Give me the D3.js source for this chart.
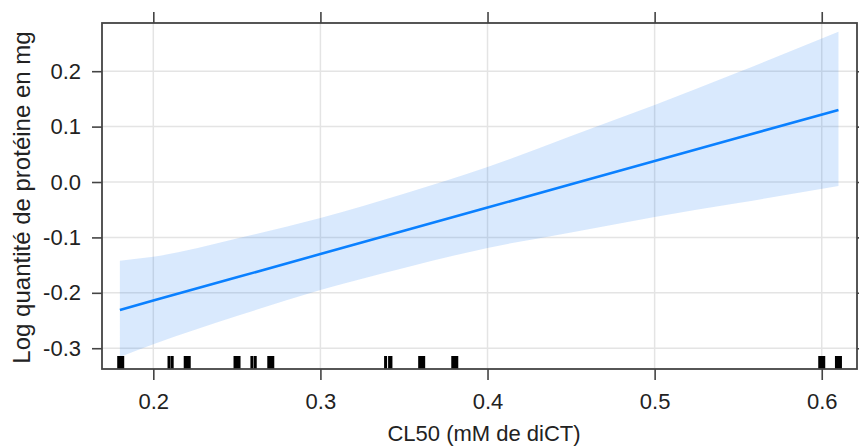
<!DOCTYPE html>
<html>
<head>
<meta charset="utf-8">
<script src="https://cdn.jsdelivr.net/npm/d3@7"></script>
<style>
  html, body { margin: 0; padding: 0; background: #fff; }
  svg { display: block; }
  text { font-family: "Liberation Sans", Arial, sans-serif; fill: #222; }
</style>
</head>
<body>
<svg id="chart" width="859" height="448"></svg>
<script>
// ---- data ----
const xTicks = [0.2, 0.3, 0.4, 0.5, 0.6];
const yTicks = [-0.3, -0.2, -0.1, 0.0, 0.1, 0.2];
const yTickLabels = ["-0.3", "-0.2", "-0.1", "0.0", "0.1", "0.2"];
const fitX     = [0.18, 0.20, 0.25, 0.30, 0.35, 0.40, 0.45, 0.50, 0.55, 0.61];
const fitY     = [-0.231, -0.214, -0.172, -0.130, -0.088, -0.046, -0.004, 0.038, 0.080, 0.130];
const upperY   = [-0.142, -0.135, -0.102, -0.065, -0.021, 0.027, 0.083, 0.139, 0.198, 0.271];
const lowerY   = [-0.316, -0.293, -0.242, -0.195, -0.155, -0.119, -0.091, -0.063, -0.038, -0.007];
const rugX = [0.1793, 0.1805, 0.1817, 0.2094, 0.2113, 0.2191, 0.2203, 0.2215,
              0.2489, 0.2501, 0.2513, 0.2590, 0.2610, 0.2691, 0.2703, 0.2715,
              0.3390, 0.3414, 0.3422, 0.3594, 0.3606, 0.3618, 0.3792, 0.3804, 0.3816,
              0.5988, 0.6000, 0.6012, 0.6088, 0.6100, 0.6112];
const xTitle = "CL50 (mM de diCT)";
const yTitle = "Log quantité de protéine en mg";

(function () {
// ---- layout ----
const svg = d3.select("#chart");
const L = 102, R = 857, T = 23, B = 369;
const x = d3.scaleLinear().domain([0.1693, 0.6211]).range([L, R]);
const y = d3.scaleLinear().domain([-0.3375, 0.287]).range([B, T]);

// grid
const grid = svg.append("g");
grid.selectAll("line.vx").data(xTicks).enter().append("line")
  .attr("x1", d => x(d)).attr("x2", d => x(d)).attr("y1", T).attr("y2", B)
  .attr("stroke", "#e4e4e4").attr("stroke-width", 1.5);
grid.selectAll("line.hy").data(yTicks).enter().append("line")
  .attr("x1", L).attr("x2", R).attr("y1", d => y(d)).attr("y2", d => y(d))
  .attr("stroke", "#e4e4e4").attr("stroke-width", 1.5);

// band
const band = fitX.map((v, i) => ({x: v, lo: lowerY[i], hi: upperY[i], f: fitY[i]}));
svg.append("path").datum(band)
  .attr("d", d3.area().x(d => x(d.x)).y0(d => y(d.lo)).y1(d => y(d.hi)).curve(d3.curveMonotoneX))
  .attr("fill", "#0a74f5").attr("fill-opacity", 0.155);

// fit line
svg.append("path").datum(band)
  .attr("d", d3.line().x(d => x(d.x)).y(d => y(d.f)))
  .attr("fill", "none").attr("stroke", "#0a80ff").attr("stroke-width", 2.6);

// rug
svg.append("g").selectAll("line").data(rugX).enter().append("line")
  .attr("x1", d => x(d)).attr("x2", d => x(d)).attr("y1", B - 13).attr("y2", B)
  .attr("stroke", "#000").attr("stroke-width", 3);

// axes
const axColor = "#444";
const gBottom = svg.append("g").attr("transform", `translate(0,${B})`)
  .call(d3.axisBottom(x).tickValues(xTicks).tickSize(11).tickPadding(13).tickFormat(d3.format(".1f")));
const gTop = svg.append("g").attr("transform", `translate(0,${T})`)
  .call(d3.axisTop(x).tickValues(xTicks).tickSize(11).tickFormat(""));
const gLeft = svg.append("g").attr("transform", `translate(${L},0)`)
  .call(d3.axisLeft(y).tickValues(yTicks).tickSize(10).tickPadding(11)
        .tickFormat((d, i) => yTickLabels[i]));
const gRight = svg.append("g").attr("transform", `translate(${R},0)`)
  .call(d3.axisRight(y).tickValues(yTicks).tickSize(10).tickFormat(""));
[gBottom, gTop, gLeft, gRight].forEach(g => {
  g.select(".domain").remove();
  g.selectAll(".tick line").attr("stroke", axColor).attr("stroke-width", 1.6);
  g.selectAll("text").attr("font-size", 22).attr("fill", "#222")
    .attr("font-family", '"Liberation Sans", Arial, sans-serif');
});

// frame
svg.append("rect").attr("x", L).attr("y", T).attr("width", R - L).attr("height", B - T)
  .attr("fill", "none").attr("stroke", axColor).attr("stroke-width", 1.8);

// titles
svg.append("text").attr("x", (386 + 582) / 2).attr("y", 441)
  .attr("text-anchor", "middle").attr("font-size", 22).text(xTitle);
svg.append("text").attr("transform", `translate(30,197.5) rotate(-90)`)
  .attr("text-anchor", "middle").attr("font-size", 24).text(yTitle);
})();
</script>
</body>
</html>
